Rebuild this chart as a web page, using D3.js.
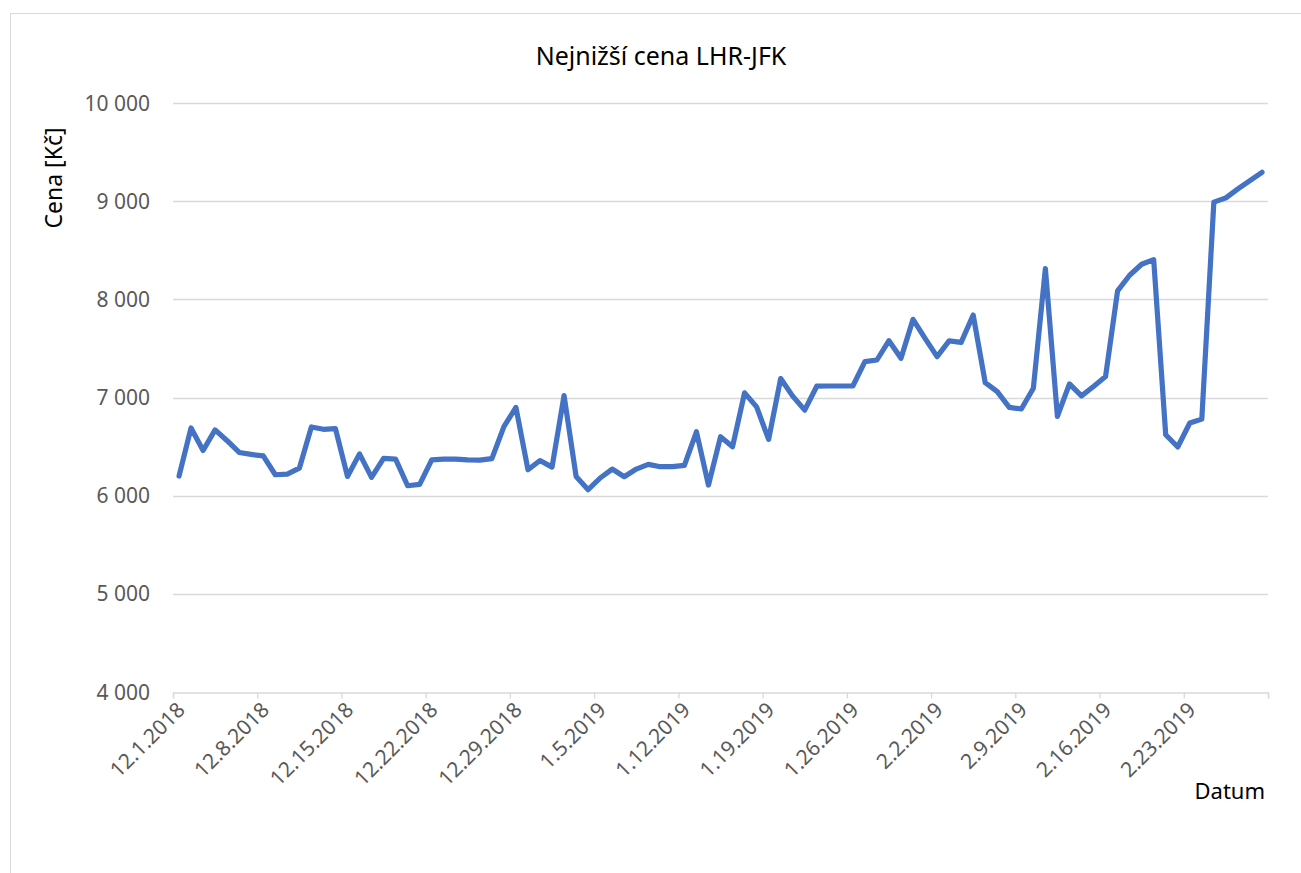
<html>
<head>
<meta charset="utf-8">
<script src="https://d3js.org/d3.v7.min.js"></script>
<style>
  body { margin: 0; background: #fff; }
  text { font-family: "Noto Sans", sans-serif; }
</style>
</head>
<body>
<svg width="1301" height="873"></svg>
<script>
// data: lowest LHR-JFK price per day, starting 1 Dec 2018
var startDay = "2018-12-01";
var prices = [
  6200, 6690, 6460, 6670, 6560, 6440, 6420, 6405, 6213, 6220,
  6280, 6700, 6676, 6682, 6196, 6426, 6186, 6380, 6372, 6101,
  6115, 6365, 6372, 6372, 6365, 6362, 6378, 6703, 6899, 6264,
  6358, 6291, 7020, 6196, 6061, 6180, 6271, 6193, 6271, 6319,
  6295, 6295, 6308, 6651, 6108, 6600, 6498, 7047, 6905, 6573,
  7193, 7014, 6871, 7115, 7117, 7117, 7117, 7365, 7382, 7579,
  7399, 7796, 7603, 7416, 7576, 7562, 7840, 7151, 7060, 6900,
  6883, 7094, 8313, 6807, 7139, 7017, 7112, 7213, 8086, 8245,
  8357, 8404, 6621, 6496, 6740, 6780, 8990, 9034, 9125, 9210,
  9294
];
var yTicks = [4000, 5000, 6000, 7000, 8000, 9000, 10000];
var titleText = "Nejnižší cena LHR-JFK";
var yTitle = "Cena [Kč]";
var xTitle = "Datum";

var svg = d3.select("svg");
var plotLeft = 173, plotRight = 1268, plotTop = 103, plotBottom = 692;

var start = d3.utcParse("%Y-%m-%d")(startDay);
var days = prices.map(function(d, i) { return d3.utcDay.offset(start, i); });
var end = d3.utcDay.offset(start, prices.length);

var x = d3.scaleUtc().domain([start, end]).range([plotLeft, plotRight]);
var y = d3.scaleLinear().domain([4000, 10000]).range([plotBottom, plotTop]);

// chart border
svg.append("rect")
  .attr("x", 10.5).attr("y", 13.5)
  .attr("width", 1300).attr("height", 880)
  .attr("fill", "none").attr("stroke", "#d9d9d9").attr("stroke-width", 1);

// gridlines
svg.append("g").selectAll("line")
  .data(yTicks.slice(1))
  .enter().append("line")
  .attr("x1", plotLeft).attr("x2", plotRight)
  .attr("y1", function(d) { return Math.round(y(d)) + 0.5; })
  .attr("y2", function(d) { return Math.round(y(d)) + 0.5; })
  .attr("stroke", "#d9d9d9").attr("stroke-width", 1.3);

// y labels
svg.append("g").selectAll("text")
  .data(yTicks)
  .enter().append("text")
  .attr("x", 150)
  .attr("y", function(d) { return y(d); })
  .attr("dy", "0.36em")
  .attr("text-anchor", "end")
  .attr("font-size", 21)
  .attr("fill", "#595959")
  .text(function(d) { return d3.format(",")(d).replace(/,/g, " "); });

// x axis
var weekTicks = d3.utcDay.range(start, end, 7);
var xAxis = svg.append("g")
  .attr("transform", "translate(0," + (Math.round(plotBottom) + 0.5) + ")")
  .call(d3.axisBottom(x).tickValues(weekTicks.concat([end])).tickSize(6).tickFormat(""));
xAxis.select(".domain").attr("stroke", "#d9d9d9").attr("stroke-width", 1.3);
xAxis.selectAll(".tick line").attr("stroke", "#d9d9d9").attr("stroke-width", 1.3);

var dateFmt = d3.utcFormat("%-m.%-d.%Y");
svg.append("g").selectAll("text")
  .data(weekTicks)
  .enter().append("text")
  .attr("transform", function(d) { return "translate(" + (x(d) + 8) + "," + (plotBottom + 14) + ") rotate(-45)"; })
  .attr("text-anchor", "end")
  .attr("dy", "0.35em")
  .attr("font-size", 21)
  .attr("fill", "#595959")
  .text(function(d) { return dateFmt(d); });

// line (points sit mid-day)
var line = d3.line()
  .x(function(d, i) { return x(d3.utcHour.offset(days[i], 12)); })
  .y(function(d) { return y(d); });
svg.append("path")
  .datum(prices)
  .attr("d", line)
  .attr("fill", "none")
  .attr("stroke", "#4472c4")
  .attr("stroke-width", 5.2)
  .attr("stroke-linejoin", "round")
  .attr("stroke-linecap", "round");

// titles
svg.append("text")
  .attr("x", 661).attr("y", 65)
  .attr("text-anchor", "middle")
  .attr("font-size", 25)
  .attr("fill", "#000")
  .text(titleText);

svg.append("text")
  .attr("transform", "translate(62,178) rotate(-90)")
  .attr("text-anchor", "middle")
  .attr("font-size", 23)
  .attr("fill", "#000")
  .text(yTitle);

svg.append("text")
  .attr("x", 1265).attr("y", 799)
  .attr("text-anchor", "end")
  .attr("font-size", 22)
  .attr("fill", "#000")
  .text(xTitle);
</script>
</body>
</html>
